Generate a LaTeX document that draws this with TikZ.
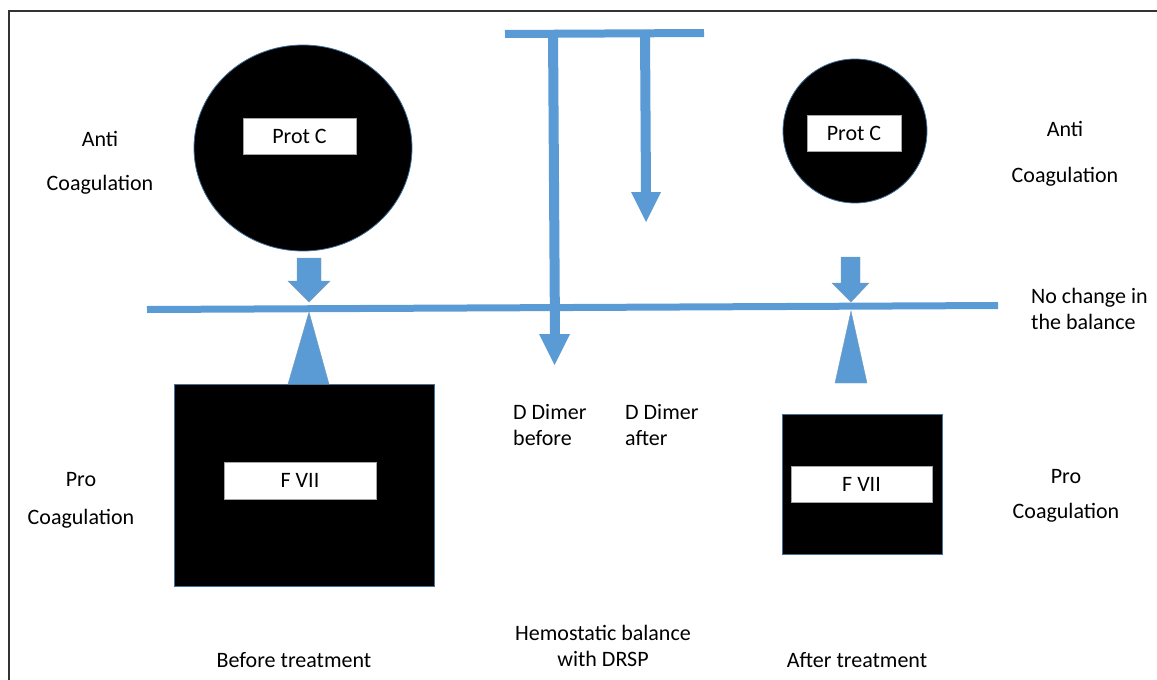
\documentclass[tikz,border=0pt]{standalone}
\usepackage{fontspec}
\setmainfont{Carlito}
\definecolor{accent}{HTML}{5B9BD5}
\definecolor{edge}{HTML}{41719C}
\definecolor{framec}{HTML}{333333}
\begin{document}
\begin{tikzpicture}[x=1pt,y=-1pt,
  lbl/.style={font=\fontsize{22}{26}\selectfont, inner sep=0pt},
  tag/.style={draw=gray!70, line width=0.6pt, fill=white, inner sep=0pt,
    font=\fontsize{22}{26}\selectfont},
  blob/.style={fill=black, draw=edge, line width=0.8pt},
  blockarrow/.style={fill=accent, draw=edge!70, line width=0.4pt},
  bar/.style={draw=accent, line width=#1},
]
\useasboundingbox (0,0) rectangle (1157,680);
% frame
\draw[framec, line width=1.2pt] (9,680) -- (9,11) -- (1157,11);

% left circle and box
\fill[blob] (303,148) ellipse [x radius=109, y radius=103];
\node[tag, minimum width=113pt, minimum height=36pt] (protL) at (299.5,136) {Prot C};
\fill[blob] (174,384) rectangle (434,586);
\node[tag, minimum width=152pt, minimum height=37pt] (fL) at (300,480.5) {F VII};

% right circle and box
\fill[blob] (855,131) circle [radius=72];
\node[tag, minimum width=94pt, minimum height=36pt] (protR) at (854,133) {Prot C};
\fill[blob] (782,414) rectangle (942,554);
\node[tag, minimum width=141pt, minimum height=36pt] (fR) at (861.5,484) {F VII};

% beam
\draw[bar=7pt] (147,309.5) coordinate (beamL) -- (998,305.5) coordinate (beamR);

% block arrows and fulcrums
\filldraw[blockarrow] (297,258) -- (321,258) -- (321,281) -- (330,281) -- (309,302) -- (288,281) -- (297,281) -- cycle;
\filldraw[blockarrow] (309,312) -- (329,384) -- (288,384) -- cycle;
\filldraw[blockarrow] (841,257) -- (860,257) -- (860,283) -- (869,283) -- (851,302) -- (832,283) -- (841,283) -- cycle;
\filldraw[blockarrow] (851,311) -- (867,383) -- (835,383) -- cycle;

% T bar with two arrows
\draw[bar=8pt] (505,34) coordinate (tL) -- (704,33) coordinate (tR);
\draw[bar=10pt] (553,30) -- (555,336);
\fill[accent] (539,334) -- (570,334) -- (554.5,365) -- cycle;
\draw[bar=10pt] (645,30) -- (646,194);
\fill[accent] (631,192) -- (661,192) -- (646,222) -- cycle;

% labels
\node[lbl, align=center] (antiL) at (100,163) {Anti\\[18pt]Coagulation};
\node[lbl, align=center] (proL) at (81,500) {Pro\\[12pt]Coagulation};
\node[lbl, align=center] (antiR) at (1065,154) {Anti\\[20pt]Coagulation};
\node[lbl, align=center] (proR) at (1066,495.5) {Pro\\[9pt]Coagulation};
\node[lbl, align=left, anchor=west] (nochg) at (1031,309) {No change in\\the balance};
\node[lbl, align=left, anchor=west] (ddb) at (513,425) {D Dimer\\before};
\node[lbl, align=left, anchor=west] (dda) at (625,425) {D Dimer\\after};
\node[lbl, align=center] (hemo) at (603,646) {Hemostatic balance\\with DRSP};
\node[lbl] (before) at (294,660) {Before treatment};
\node[lbl] (after) at (857,660) {After treatment};
\end{tikzpicture}
\end{document}
